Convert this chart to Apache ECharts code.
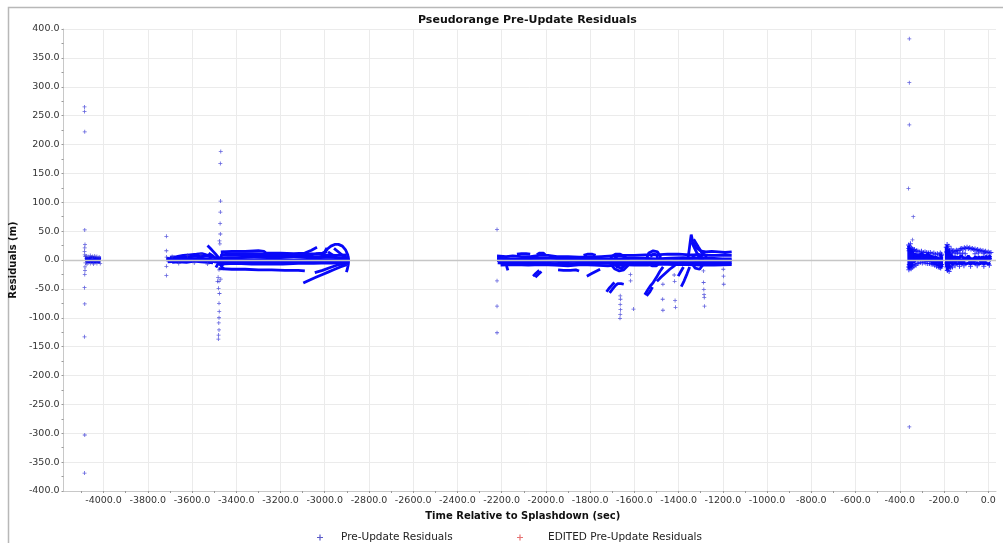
<!DOCTYPE html>
<html>
<head>
<meta charset="utf-8">
<script src="https://cdn.jsdelivr.net/npm/echarts@6/dist/echarts.min.js"></script>
<style>
  html, body { margin: 0; padding: 0; background: #ffffff; }
  #chart { width: 1003px; height: 543px; }
</style>
</head>
<body>
<div id="chart"></div>
<script>
// ---- axis ticks -------------------------------------------------------
const xTickValues = [-4000, -3800, -3600, -3400, -3200, -3000, -2800, -2600, -2400, -2200,
  -2000, -1800, -1600, -1400, -1200, -1000, -800, -600, -400, -200, 0];
const xMinorTickValues = [-4100, -3900, -3700, -3500, -3300, -3100, -2900, -2700, -2500, -2300,
  -2100, -1900, -1700, -1500, -1300, -1100, -900, -700, -500, -300, -100];

// ---- pass 1 (about -4090 s .. -4010 s) ---------------------------------
const pass1Points = [
  [-4086, 265], [-4086, 257], [-4085, 222], [-4085, 52], [-4084, 27], [-4085, 21],
  [-4086, 15], [-4085, 9], [-4083, 6], [-4082, -5], [-4084, -12], [-4084, -18],
  [-4085, -25], [-4086, -48], [-4085, -76], [-4086, -133], [-4085, -303], [-4086, -369],
  [-4078, 7], [-4070, 6], [-4060, 8], [-4050, 6], [-4040, 7], [-4030, 6], [-4020, 5],
  [-4075, -7], [-4060, -6], [-4045, -7], [-4030, -6], [-4015, -6]
];
const pass1Tracks = [
  [[-4084, 4], [-4070, 3], [-4055, 5], [-4040, 4], [-4025, 3], [-4012, 4]],
  [[-4084, 0], [-4068, 1], [-4050, 0], [-4035, 1], [-4018, 0], [-4012, 1]],
  [[-4080, -4], [-4062, -3], [-4045, -4], [-4028, -3], [-4015, -4]]
];

// ---- pass 2 (about -3716 s .. -2889 s) ---------------------------------
const pass2Points = [
  [-3716, 41], [-3716, 16], [-3715, 5], [-3716, -11], [-3716, -27],
  [-3470, 188], [-3472, 167], [-3471, 102], [-3472, 83], [-3473, 63], [-3472, 45],
  [-3476, 33], [-3474, 28], [-3478, -17], [-3482, -30], [-3470, -33], [-3485, -37],
  [-3478, -37], [-3480, -49], [-3476, -58], [-3478, -75], [-3477, -89], [-3478, -100],
  [-3479, -109], [-3478, -121], [-3480, -130], [-3481, -137],
  [-3690, 6], [-3660, -6], [-3620, 8], [-3590, -5], [-3560, 10], [-3530, -7]
];
const pass2Tracks = [
  [[-3716, 3], [-3690, 2], [-3660, 4], [-3630, 5], [-3600, 6], [-3570, 7], [-3545, 8], [-3520, 6],
   [-3495, 4], [-3472, 3], [-3440, 4], [-3400, 4], [-3350, 5], [-3300, 5], [-3250, 5], [-3200, 6],
   [-3150, 6], [-3100, 6], [-3050, 5], [-3000, 5], [-2950, 4], [-2889, 4]],
  [[-3716, 0], [-3680, 0], [-3640, 1], [-3600, 2], [-3560, 3], [-3530, 2], [-3500, 0], [-3472, -1],
   [-3430, 1], [-3380, 1], [-3320, 0], [-3260, 1], [-3200, 1], [-3140, 0], [-3080, 1],
   [-3020, 1], [-2960, 0], [-2889, 1]],
  [[-3710, -3], [-3650, -2], [-3600, -2], [-3550, -1], [-3500, -3], [-3460, -4], [-3400, -3],
   [-3330, -3], [-3260, -4], [-3190, -3], [-3120, -3], [-3050, -2], [-2980, -3], [-2889, -3]],
  [[-3480, -7], [-3400, -6], [-3330, -7], [-3260, -7], [-3190, -7], [-3120, -6], [-3050, -6],
   [-2980, -5], [-2889, -6]],
  [[-3700, 5], [-3670, 6], [-3640, 8], [-3610, 9], [-3580, 10], [-3555, 11], [-3535, 9], [-3510, 7]],
  [[-3690, -4], [-3660, -3], [-3625, -4], [-3590, -2], [-3560, -3], [-3530, -4], [-3505, -5]],
  [[-3472, 8], [-3420, 9], [-3360, 8], [-3300, 9], [-3240, 8], [-3180, 9], [-3120, 9], [-3079, 8],
   [-3040, 10], [-3000, 9], [-2950, 8], [-2900, 9]],
  [[-3470, 14], [-3420, 15], [-3360, 15], [-3300, 16], [-3275, 15], [-3265, 12], [-3200, 12],
   [-3140, 11], [-3090, 12], [-3060, 17], [-3035, 22]],
  [[-3455, 11], [-3400, 11], [-3330, 11], [-3270, 10], [-3200, 10], [-3140, 9], [-3080, 10],
   [-3040, 11], [-3010, 12], [-2990, 15]],
  [[-3530, 25], [-3512, 18], [-3495, 11], [-3480, 4], [-3468, -4], [-3458, -10]],
  [[-3525, 12], [-3505, 7], [-3488, 1], [-3475, -6], [-3465, -12], [-3455, -16]],
  [[-3492, -13], [-3482, -6], [-3472, 3], [-3462, 12], [-3455, 15]],
  [[-3480, -15], [-3420, -16], [-3360, -16], [-3300, -17], [-3240, -17], [-3180, -18],
   [-3120, -18], [-3090, -19]],
  [[-3097, -40], [-3070, -35], [-3040, -30], [-3010, -25], [-2985, -21], [-2960, -17],
   [-2930, -12], [-2900, -8]],
  [[-3045, -22], [-3010, -18], [-2975, -13], [-2945, -9], [-2912, -6]],
  [[-3000, 12], [-2988, 19], [-2972, 24], [-2955, 27], [-2938, 27], [-2920, 24], [-2905, 17],
   [-2896, 9], [-2892, 0], [-2894, -9], [-2898, -16], [-2902, -21]],
  [[-3012, 7], [-3000, 14], [-2990, 21]],
  [[-2985, 14], [-2962, 8], [-2935, 1], [-2912, -4]],
  [[-2958, 20], [-2935, 13], [-2910, 5], [-2892, 2]]
];

// ---- pass 3 (about -2221 s .. -1159 s) ---------------------------------
const pass3Points = [
  [-2221, 53], [-2221, -36], [-2221, -80], [-2221, -126],
  [-1664, -62], [-1663, -68], [-1664, -77], [-1663, -86], [-1664, -94], [-1665, -101],
  [-1618, -25], [-1617, -36], [-1604, -85],
  [-1471, -42], [-1472, -68], [-1471, -87],
  [-1420, -26], [-1418, -37], [-1416, -70], [-1414, -82],
  [-1288, -19], [-1287, -39], [-1286, -51], [-1285, -60], [-1284, -65], [-1283, -80],
  [-1198, -16], [-1197, -28], [-1196, -42]
];
const pass3Tracks = [
  [[-2221, 7], [-2180, 6], [-2150, 7], [-2110, 6], [-2070, 6], [-2030, 8], [-1990, 8], [-1950, 6],
   [-1900, 6], [-1850, 5], [-1800, 5], [-1750, 6], [-1700, 7], [-1650, 8], [-1600, 8], [-1550, 9],
   [-1500, 9], [-1450, 10], [-1400, 10], [-1350, 9], [-1300, 9], [-1250, 8], [-1200, 8], [-1160, 8]],
  [[-2221, 3], [-2160, 2], [-2100, 2], [-2040, 3], [-1980, 3], [-1920, 2], [-1860, 2],
   [-1800, 3], [-1740, 2], [-1680, 2], [-1620, 3], [-1560, 3], [-1500, 2], [-1440, 3],
   [-1380, 4], [-1320, 3], [-1260, 3], [-1200, 2], [-1160, 2]],
  [[-2221, -1], [-2160, -2], [-2100, -2], [-2040, -1], [-1980, -2], [-1920, -3], [-1860, -2],
   [-1800, -1], [-1740, -2], [-1680, -2], [-1620, -1], [-1560, -1], [-1500, -2], [-1440, -1],
   [-1380, 0], [-1320, -1], [-1260, -1], [-1200, -1], [-1160, -1]],
  [[-2218, -5], [-2160, -6], [-2100, -6], [-2040, -5], [-1980, -6], [-1920, -7], [-1860, -6],
   [-1800, -5], [-1740, -6], [-1680, -6], [-1620, -5], [-1560, -5], [-1500, -6], [-1440, -5],
   [-1380, -4], [-1320, -5], [-1260, -5], [-1200, -5], [-1160, -5]],
  [[-2205, -9], [-2140, -8], [-2080, -9], [-2020, -8], [-1960, -9], [-1900, -10], [-1840, -8],
   [-1780, -9], [-1720, -10], [-1660, -8], [-1600, -9], [-1540, -9], [-1480, -7], [-1420, -8],
   [-1360, -8], [-1300, -9], [-1240, -9], [-1160, -8]],
  [[-2131, 10], [-2110, 11], [-2090, 11], [-2071, 10]],
  [[-2041, 9], [-2028, 12], [-2012, 12], [-2003, 9]],
  [[-1830, 8], [-1810, 10], [-1790, 10], [-1775, 8]],
  [[-1710, 0], [-1702, 6], [-1686, 10], [-1664, 10], [-1644, 6], [-1628, 0], [-1630, -10],
   [-1648, -17], [-1668, -19], [-1690, -15], [-1705, -8], [-1710, 0]],
  [[-1690, 2], [-1676, 7], [-1655, 8], [-1638, 3], [-1640, -8], [-1658, -14], [-1678, -12], [-1690, -5]],
  [[-1545, 2], [-1535, 12], [-1515, 16], [-1495, 14], [-1483, 6], [-1485, -4], [-1500, -10],
   [-1520, -10], [-1538, -5], [-1545, 2]],
  [[-1528, 6], [-1512, 11], [-1497, 8], [-1495, -2], [-1510, -6], [-1525, -2]],
  [[-1345, 0], [-1330, 8], [-1310, 10], [-1292, 4], [-1290, -8], [-1305, -16], [-1325, -14], [-1340, -6]],
  [[-1358, 2], [-1352, 18], [-1347, 33], [-1343, 44], [-1336, 31], [-1322, 22], [-1302, 16], [-1280, 14]],
  [[-1300, 11], [-1278, 14], [-1250, 15], [-1220, 14], [-1190, 13], [-1160, 14]],
  [[-1340, 30], [-1322, 16], [-1304, 2], [-1290, -8]],
  [[-1332, 36], [-1310, 22], [-1290, 10], [-1270, 6]],
  [[-2178, -10], [-2172, -18]],
  [[-2058, -28], [-2045, -23], [-2030, -18]],
  [[-2048, -30], [-2035, -25], [-2020, -20]],
  [[-1945, -17], [-1920, -18], [-1890, -18], [-1865, -17], [-1850, -19]],
  [[-1815, -28], [-1795, -24], [-1775, -20], [-1755, -16]],
  [[-1726, -55], [-1712, -48], [-1700, -43], [-1690, -39]],
  [[-1712, -57], [-1698, -50], [-1685, -44], [-1675, -41], [-1660, -41], [-1648, -42]],
  [[-1553, -60], [-1540, -52], [-1528, -45], [-1515, -39], [-1500, -30], [-1485, -20], [-1470, -12]],
  [[-1545, -62], [-1530, -55], [-1518, -47]],
  [[-1498, -37], [-1480, -30], [-1460, -23], [-1440, -16], [-1420, -10], [-1405, -6]],
  [[-1388, -46], [-1375, -36], [-1362, -24], [-1350, -12]],
  [[-1402, -28], [-1390, -20], [-1378, -12]]
];

// ---- pass 4 (about -361 s .. +15 s) -------------------------------------
const pass4Points = [
  [-357, 383], [-357, 307], [-357, 234], [-361, 124], [-339, 75], [-343, 35], [-357, -289]
];
const pass4Cloud = [
  // first block
  [-360, 26], [-360, -12], [-359, 20], [-359, -17], [-358, 16], [-357, -8], [-356, 23], [-355, -14],
  [-354, 18], [-353, -10], [-352, 28], [-351, -6], [-350, 15], [-349, -15], [-348, 21], [-346, -9],
  [-345, 17], [-344, -13], [-342, 19], [-340, -8], [-338, 16], [-336, -11], [-334, 18], [-332, -7],
  [-330, 15], [-327, -9], [-324, 16], [-321, -6], [-318, 15], [-314, -5], [-310, 14], [-306, -4],
  [-302, 15], [-298, -5], [-294, 13], [-290, -4], [-286, 14], [-282, -5], [-278, 13], [-274, -6],
  [-270, 12], [-266, -6], [-262, 13], [-258, -7], [-254, 11], [-250, -8], [-246, 12], [-242, -9],
  [-238, 10], [-234, -11], [-230, 11], [-226, -12], [-222, 9], [-219, -13], [-217, 12], [-215, -14],
  [-213, 8], [-212, -11], [-211, 10], [-210, -8],
  // second block
  [-190, 22], [-189, 14], [-188, -5], [-187, -12], [-186, 27], [-185, -18], [-184, 18], [-183, -9],
  [-181, 12], [-180, -15], [-178, 24], [-177, -20], [-175, 16], [-174, -11], [-172, 11], [-170, -14],
  [-168, 19], [-166, -9], [-164, 13], [-162, -12],
  [-162, 15], [-156, 16], [-150, 15], [-144, 17], [-138, 16], [-132, 17], [-126, 19], [-120, 20],
  [-114, 19], [-108, 21], [-102, 20], [-96, 22], [-90, 20], [-84, 21], [-78, 19], [-72, 20],
  [-66, 18], [-60, 19], [-54, 17], [-48, 18], [-42, 16], [-36, 17], [-30, 15], [-24, 16],
  [-18, 14], [-12, 15], [-6, 13], [0, 14], [6, 12], [12, 13],
  [-150, 11], [-140, 12], [-128, 11], [-116, 12], [-104, 11], [-60, 11], [-45, 12], [-20, 11],
  [-150, -10], [-130, -11], [-110, -10], [-80, -11], [-50, -10], [-20, -11], [5, -9]
];
const pass4Tracks = [
  [[-357, 13], [-350, 9], [-343, 14], [-336, 10], [-329, 13], [-322, 9], [-315, 12], [-308, 8],
   [-301, 12], [-294, 8], [-287, 11], [-280, 7], [-273, 11], [-266, 7], [-259, 10], [-252, 6],
   [-245, 9], [-238, 5], [-231, 7], [-224, 3], [-217, 6], [-211, 2]],
  [[-356, 10], [-349, 6], [-342, 11], [-335, 6], [-328, 10], [-321, 5], [-314, 10], [-307, 5],
   [-300, 9], [-293, 5], [-286, 9], [-279, 4], [-272, 8], [-265, 4], [-258, 7], [-251, 3],
   [-244, 6], [-237, 1], [-230, 4], [-223, 0], [-216, 3], [-210, -1]],
  [[-356, 7], [-349, 2], [-342, 7], [-335, 3], [-328, 6], [-321, 2], [-314, 7], [-307, 3],
   [-300, 6], [-293, 2], [-286, 6], [-279, 2], [-272, 5], [-265, 1], [-258, 5], [-251, 0],
   [-244, 3], [-237, -2], [-230, 2], [-223, -3], [-216, 0], [-210, -4]],
  [[-357, 3], [-350, -2], [-343, 3], [-336, -1], [-329, 3], [-322, 0], [-315, 4], [-308, 0],
   [-301, 3], [-294, 0], [-287, 3], [-280, -1], [-273, 2], [-266, -1], [-259, 2], [-252, -3],
   [-245, 0], [-238, -5], [-231, -1], [-224, -6], [-217, -3], [-211, -7]],
  [[-357, -1], [-350, -5], [-343, 0], [-336, -4], [-329, 0], [-322, -3], [-315, 1], [-308, -2],
   [-301, 1], [-294, -2], [-287, 0], [-280, -3], [-273, 0], [-266, -3], [-259, -1], [-252, -5],
   [-245, -2], [-238, -7], [-231, -4], [-224, -9], [-217, -6], [-211, -10]],
  [[-360, 25], [-359, -15], [-357, 22], [-356, -12], [-354, 18], [-353, -14], [-351, 15],
   [-350, -10], [-348, 20], [-347, -12], [-345, 16]],
  [[-215, 10], [-214, -14], [-212, 8], [-211, -12], [-210, 6]],
  [[-186, 9], [-178, 5], [-170, 10], [-162, 6], [-154, 9], [-146, 5], [-138, 8], [-130, 4],
   [-122, 8], [-114, 4], [-106, 7], [-98, 3], [-90, 7], [-82, 3], [-74, 6], [-66, 2], [-58, 6],
   [-50, 2], [-42, 6], [-34, 2], [-26, 6], [-18, 2], [-10, 7], [-2, 3], [6, 7], [13, 4]],
  [[-186, 5], [-178, 1], [-170, 6], [-162, 2], [-154, 5], [-146, 1], [-138, 5], [-130, 1],
   [-122, 4], [-114, 0], [-106, 4], [-98, 0], [-90, 4], [-82, 0], [-74, 3], [-66, -1], [-58, 3],
   [-50, -1], [-42, 3], [-34, -1], [-26, 3], [-18, -1], [-10, 3], [-2, 0], [6, 4], [13, 1]],
  [[-186, 1], [-178, -3], [-170, 2], [-162, -2], [-154, 1], [-146, -3], [-138, 1], [-130, -3],
   [-122, 0], [-114, -4], [-106, 0], [-98, -3], [-90, 1], [-82, -3], [-74, 0], [-66, -4], [-58, 0],
   [-50, -3], [-42, 1], [-34, -3], [-26, 0], [-18, -4], [-10, 0], [-2, -3], [6, 1], [13, -2]],
  [[-182, -6], [-170, -4], [-160, -7], [-150, -5], [-140, -7], [-130, -5], [-120, -7], [-110, -5],
   [-100, -7], [-90, -5], [-80, -7], [-70, -5], [-60, -7], [-50, -5], [-40, -7], [-30, -5],
   [-20, -7], [-10, -5], [0, -7], [10, -5]],
  [[-190, 22], [-189, -12], [-187, 26], [-186, -18], [-184, 18], [-183, -10], [-181, 14],
   [-180, -15], [-178, 20], [-177, -14]]
];

// No points were flagged as edited in this run.
const editedPoints = [];

// ---- styling ------------------------------------------------------------
const FONT = 'DejaVu Sans';
const TRACK_BLUE = '#0808f8';
const POINT_BLUE = '#3a3ad6';
const PLUS = 'path://M2,0H3V2H5V3H3V5H2V3H0V2H2Z';
const SERIES_NAME = 'Pre-Update Residuals';
const EDITED_NAME = 'EDITED Pre-Update Residuals';

function trackSeries(track) {
  return {
    type: 'line', name: SERIES_NAME, data: track,
    symbol: 'none', showSymbol: false, silent: true,
    lineStyle: { color: TRACK_BLUE, width: 2.8 },
    itemStyle: { color: TRACK_BLUE },
    z: 3, animation: false
  };
}

const allTracks = [].concat(pass1Tracks, pass2Tracks, pass3Tracks, pass4Tracks);

const series = [
  {
    // zero reference line
    type: 'line', name: 'zero', data: [], silent: true, z: 1,
    markLine: {
      silent: true, symbol: ['none', 'none'], label: { show: false },
      lineStyle: { color: '#c6c6c6', width: 1.3, type: 'solid' },
      data: [{ yAxis: 0 }], animation: false
    }
  }
].concat(allTracks.map(trackSeries)).concat([
  {
    type: 'scatter', name: SERIES_NAME,
    data: [].concat(pass4Cloud),
    symbol: PLUS, symbolSize: 5, itemStyle: { color: TRACK_BLUE }, z: 4, silent: true
  },
  {
    type: 'scatter', name: SERIES_NAME,
    data: [].concat(pass1Points, pass2Points, pass3Points, pass4Points),
    symbol: PLUS, symbolSize: 4, itemStyle: { color: POINT_BLUE }, z: 5, silent: true
  },
  {
    type: 'scatter', name: EDITED_NAME, data: editedPoints,
    symbol: PLUS, symbolSize: 4, itemStyle: { color: '#e03838' }, z: 6, silent: true
  }
]);

const legendText = { fontFamily: FONT, fontSize: 10.5, color: '#222' };

const option = {
  animation: false,
  backgroundColor: '#ffffff',
  title: {
    text: 'Pseudorange Pre-Update Residuals',
    left: 413, top: 10,
    textStyle: { fontFamily: FONT, fontSize: 11, fontWeight: 'bold', color: '#111' }
  },
  graphic: [{
    type: 'rect', left: 6, top: 5, silent: true, z: -10,
    shape: { width: 1100, height: 600 },
    style: { fill: 'none', stroke: '#b8b8b8', lineWidth: 1.5 }
  }],
  legend: [
    {
      data: [{ name: SERIES_NAME, icon: PLUS, itemStyle: { color: '#5a5ac8' } }],
      left: 312, top: 527, itemWidth: 6, itemHeight: 6, selectedMode: false,
      textStyle: Object.assign({ padding: [0, 0, 0, 13] }, legendText)
    },
    {
      data: [{ name: EDITED_NAME, icon: PLUS, itemStyle: { color: '#e05050' } }],
      left: 512, top: 527, itemWidth: 6, itemHeight: 6, selectedMode: false,
      textStyle: Object.assign({ padding: [0, 0, 0, 20] }, legendText)
    }
  ],
  grid: { left: 63, top: 29, right: 7, bottom: 52, containLabel: false },
  xAxis: [
    {
      type: 'value', min: -4181, max: 35,
      name: 'Time Relative to Splashdown (sec)', nameLocation: 'middle', nameGap: 20,
      nameTextStyle: { fontFamily: FONT, fontSize: 10, fontWeight: 'bold', color: '#111', padding: [0, 14, 0, 0] },
      axisLine: { show: true, onZero: false, lineStyle: { color: '#c8c8c8', width: 1 } },
      axisTick: { show: true, length: 2, customValues: xTickValues, lineStyle: { color: '#9a9a9a' } },
      axisLabel: {
        customValues: xTickValues, margin: 5,
        fontFamily: FONT, fontSize: 9.5, color: '#333',
        formatter: v => Number(v).toFixed(1)
      },
      splitLine: { show: true, lineStyle: { color: '#ebebeb', width: 1 } }
    },
    {
      type: 'value', min: -4181, max: 35, position: 'bottom',
      axisLine: { show: false, onZero: false },
      axisTick: { show: true, length: 2, customValues: xMinorTickValues, lineStyle: { color: '#9a9a9a' } },
      axisLabel: { show: false },
      splitLine: { show: false }
    }
  ],
  yAxis: {
    type: 'value', min: -400, max: 400, interval: 50,
    name: 'Residuals (m)', nameLocation: 'middle', nameGap: 35, nameRotate: 90,
    nameTextStyle: { fontFamily: FONT, fontSize: 10, fontWeight: 'bold', color: '#111' },
    axisLine: { show: true, onZero: false, lineStyle: { color: '#c8c8c8', width: 1 } },
    axisTick: { show: true, length: 2, lineStyle: { color: '#9a9a9a' } },
    minorTick: { show: true, splitNumber: 2, length: 2, lineStyle: { color: '#9a9a9a' } },
    axisLabel: {
      margin: 4, fontFamily: FONT, fontSize: 9.5, color: '#333',
      formatter: v => Number(v).toFixed(1)
    },
    splitLine: { show: true, lineStyle: { color: '#ebebeb', width: 1 } }
  },
  series: series
};

const chart = echarts.init(document.getElementById('chart'), null, { renderer: 'canvas' });
chart.setOption(option);
</script>
</body>
</html>
